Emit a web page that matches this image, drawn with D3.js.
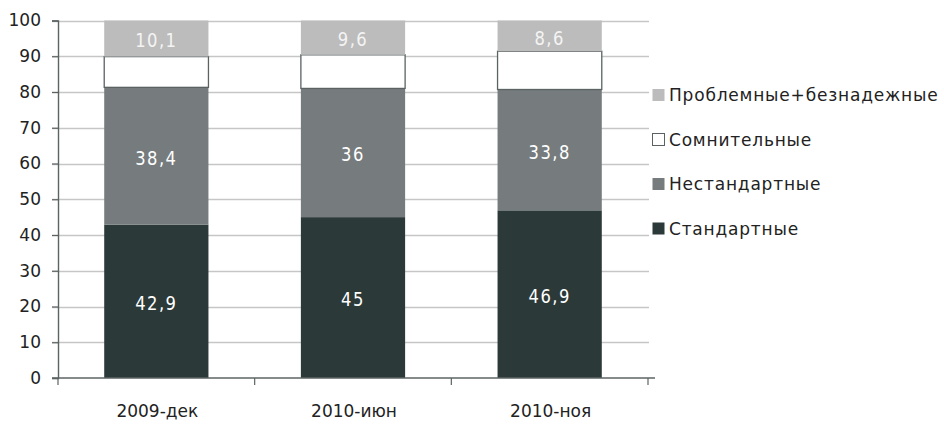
<!DOCTYPE html>
<html>
<head>
<meta charset="utf-8">
<script src="https://cdn.jsdelivr.net/npm/d3@7"></script>
<style>
  html, body { margin: 0; padding: 0; background: #fff; }
  svg text { font-family: "DejaVu Sans", sans-serif; }
</style>
</head>
<body>
<svg id="chart" width="944" height="424"></svg>
<script>
// Loan portfolio quality structure, %
const categories = ["2009-дек", "2010-июн", "2010-ноя"];
const seriesNames = ["Стандартные", "Нестандартные", "Сомнительные", "Проблемные+безнадежные"];
const standard = [42.9, 45, 46.9];
const nonstandard = [38.4, 36, 33.8];
const doubtful = [8.6, 9.4, 10.7];
const problem = [10.1, 9.6, 8.6];
const yTicks = [0, 10, 20, 30, 40, 50, 60, 70, 80, 90, 100];

const seriesValues = [standard, nonstandard, doubtful, problem];
const fills = ["#2c3939", "#767b7d", "#ffffff", "#bcbcbc"];
const strokes = [null, null, "#5b6262", null];
const labelShown = [true, true, false, true];

const svg = d3.select("#chart");
const plotLeft = 58, plotRight = 648, plotTop = 20.5, plotBottom = 378;

const x = d3.scaleBand().domain(categories).range([plotLeft, plotRight]).paddingInner(0.47).paddingOuter(0.235);
const xOuter = d3.scaleBand().domain(categories).range([plotLeft, plotRight]);
const y = d3.scaleLinear().domain([0, 100]).range([plotBottom, plotTop]);

// gridlines
svg.append("g").selectAll("line").data(yTicks.filter(d => d > 0)).join("line")
  .attr("x1", plotLeft - 6).attr("x2", plotRight + 1)
  .attr("y1", d => Math.round(y(d)) + 0.5).attr("y2", d => Math.round(y(d)) + 0.5)
  .attr("stroke", "#c6c6c6").attr("stroke-width", 1.4);

// stacked bars
const rows = categories.map((c, i) => {
  const r = { cat: c };
  seriesNames.forEach((s, k) => r[s] = seriesValues[k][i]);
  return r;
});
const stacked = d3.stack().keys(seriesNames)(rows);

stacked.forEach((layer, k) => {
  const g = svg.append("g");
  g.selectAll("rect").data(layer).join("rect")
    .attr("x", d => x(d.data.cat))
    .attr("width", x.bandwidth())
    .attr("y", d => y(d[1]))
    .attr("height", d => y(d[0]) - y(d[1]))
    .attr("fill", fills[k])
    .attr("stroke", strokes[k] || "none")
    .attr("stroke-width", 1.3);
  if (labelShown[k]) {
    // value labels: tall, condensed digits with loose tracking
    g.selectAll("text").data(layer).join("text")
      .attr("transform", d => `translate(${x(d.data.cat) + x.bandwidth() / 2},${y((d[0] + d[1]) / 2) + 1.5}) scale(0.82,1)`)
      .attr("dy", "0.36em")
      .attr("text-anchor", "middle")
      .attr("font-family", "Roboto, sans-serif")
      .attr("font-size", 20)
      .attr("letter-spacing", "1.8px")
      .attr("fill", k === 3 ? "#f4f4f4" : "#ffffff")
      .text(d => String(d.data[seriesNames[k]]).replace(".", ","));
  }
});

// y axis
const yAxis = svg.append("g").attr("transform", `translate(${plotLeft},0)`)
  .call(d3.axisLeft(y).tickValues(yTicks).tickSize(6).tickPadding(11));
yAxis.select(".domain").attr("stroke", "#5d6363").attr("stroke-width", 1.4);
yAxis.selectAll(".tick line").attr("stroke", "#5d6363").attr("stroke-width", 1.2);
yAxis.selectAll(".tick text").attr("font-size", 17).attr("fill", "#222")
  .attr("font-family", "'DejaVu Sans', sans-serif");

// x axis
const xAxis = svg.append("g").attr("transform", `translate(0,${plotBottom})`);
xAxis.append("line").attr("x1", plotLeft - 6).attr("x2", plotRight + 7)
  .attr("y1", 0).attr("y2", 0).attr("stroke", "#5d6363").attr("stroke-width", 1.6);
const tickPos = categories.map(c => xOuter(c)).concat([plotRight]);
xAxis.selectAll("line.tk").data(tickPos).join("line").attr("class", "tk")
  .attr("x1", d => d).attr("x2", d => d).attr("y1", 0).attr("y2", 7)
  .attr("stroke", "#5d6363").attr("stroke-width", 1.2);
xAxis.selectAll("text").data(categories).join("text")
  .attr("x", d => xOuter(d) + xOuter.bandwidth() / 2 + 1)
  .attr("y", 39)
  .attr("text-anchor", "middle")
  .attr("font-size", 17).attr("fill", "#222")
  .text(d => d);

// legend
const legendOrder = [3, 2, 1, 0];
const legendY = [95, 139.5, 184, 228.5];
const legend = svg.append("g");
legendOrder.forEach((k, i) => {
  legend.append("rect")
    .attr("x", 652.5).attr("y", legendY[i] - 6).attr("width", 12).attr("height", 12)
    .attr("fill", fills[k])
    .attr("stroke", strokes[k] || "none").attr("stroke-width", 1);
  legend.append("text")
    .attr("x", 669).attr("y", legendY[i]).attr("dy", "0.36em")
    .attr("font-size", 17).attr("letter-spacing", "0.8px").attr("fill", "#222")
    .text(seriesNames[k]);
});
</script>
</body>
</html>
